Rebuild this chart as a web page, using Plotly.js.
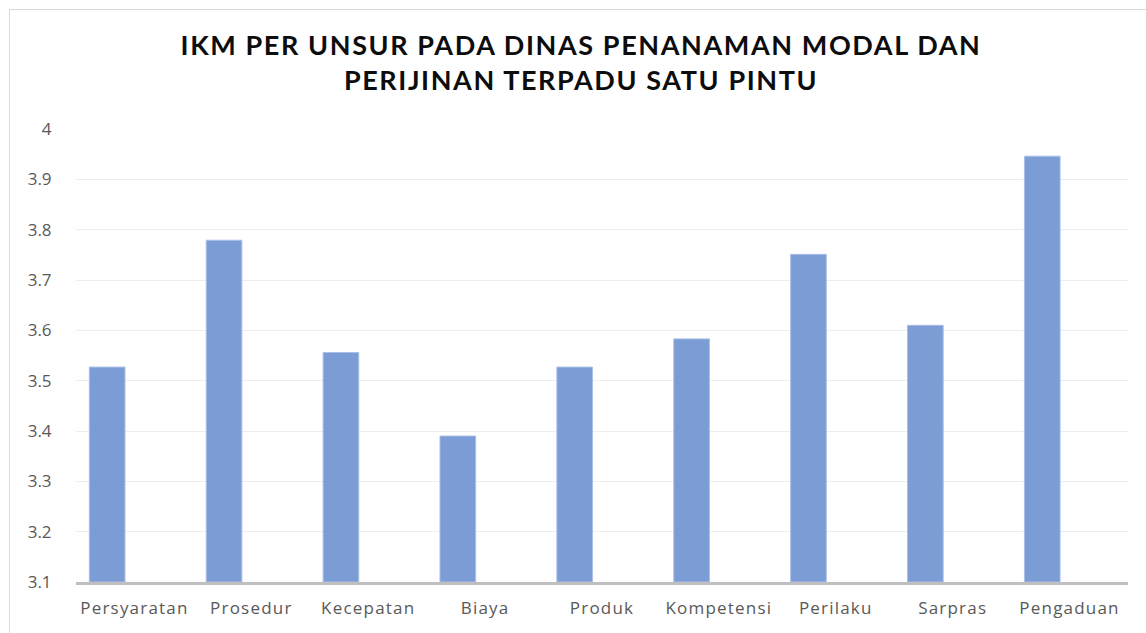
<!DOCTYPE html>
<html>
<head>
<meta charset="utf-8">
<script src="https://cdn.plot.ly/plotly-3.0.1.min.js"></script>
<style>
  html, body { margin: 0; padding: 0; background: #fff; }
  #wrap { position: relative; width: 1146px; height: 633px; overflow: hidden; }
  #chart { position: absolute; left: 0; top: 0; width: 1146px; height: 633px; }
  #frame { position: absolute; left: 9px; top: 9px; width: 1160px; height: 650px; border: 1.5px solid #d9d9d9; box-sizing: border-box; pointer-events: none; }
  .xtick text { letter-spacing: 1.2px; }
  .gtitle { letter-spacing: 1.6px; }
</style>
</head>
<body>
<div id="wrap">
  <div id="chart"></div>
  <div id="frame"></div>
</div>
<script>
const categories = ["Persyaratan", "Prosedur", "Kecepatan", "Biaya", "Produk", "Kompetensi", "Perilaku", "Sarpras", "Pengaduan"];
const values = [3.527, 3.779, 3.556, 3.390, 3.527, 3.583, 3.751, 3.610, 3.946];
const yTicks = [3.1, 3.2, 3.3, 3.4, 3.5, 3.6, 3.7, 3.8, 3.9, 4];
const yTickLabels = ["3.1", "3.2", "3.3", "3.4", "3.5", "3.6", "3.7", "3.8", "3.9", "4"];
const chartTitle = "IKM PER UNSUR PADA DINAS PENANAMAN MODAL DAN<br>PERIJINAN TERPADU SATU PINTU";
const axisMin = 3.1;

const trace = {
  type: "bar",
  x: categories,
  y: values.map(v => v - axisMin),
  base: axisMin,
  width: 0.305,
  offset: -0.386,
  marker: { color: "#7c9cd6", line: { color: "#a9bfe6", width: 1 } },
  hoverinfo: "x+y"
};

const layout = {
  width: 1146,
  height: 633,
  margin: { l: 76, r: 18, t: 129, b: 51 },
  paper_bgcolor: "#ffffff",
  plot_bgcolor: "#ffffff",
  showlegend: false,
  title: {
    text: chartTitle,
    font: { family: "Lato, 'Open Sans', sans-serif", size: 27, color: "#0d0d0d", weight: "bold" },
    x: 0.507, xref: "container", xanchor: "center",
    y: 0.913, yref: "container", yanchor: "top"
  },
  xaxis: {
    type: "category",
    showgrid: false,
    showline: true,
    linecolor: "#bfbfbf",
    linewidth: 3,
    ticks: "outside",
    ticklen: 9,
    tickcolor: "rgba(0,0,0,0)",
    tickfont: { family: "'Open Sans', sans-serif", size: 17, color: "#595959" },
    zeroline: false
  },
  yaxis: {
    range: [3.1, 4.0],
    tickvals: yTicks,
    ticktext: yTickLabels,
    showgrid: true,
    gridcolor: "#ededed",
    gridwidth: 1,
    showline: false,
    zeroline: false,
    ticks: "outside",
    ticklen: 20,
    tickcolor: "rgba(0,0,0,0)",
    tickfont: { family: "'Open Sans', sans-serif", size: 17, color: "#595959" },
    fixedrange: true
  },
  bargap: 0
};

Plotly.newPlot("chart", [trace], layout, { displayModeBar: false, staticPlot: true });
</script>
</body>
</html>
